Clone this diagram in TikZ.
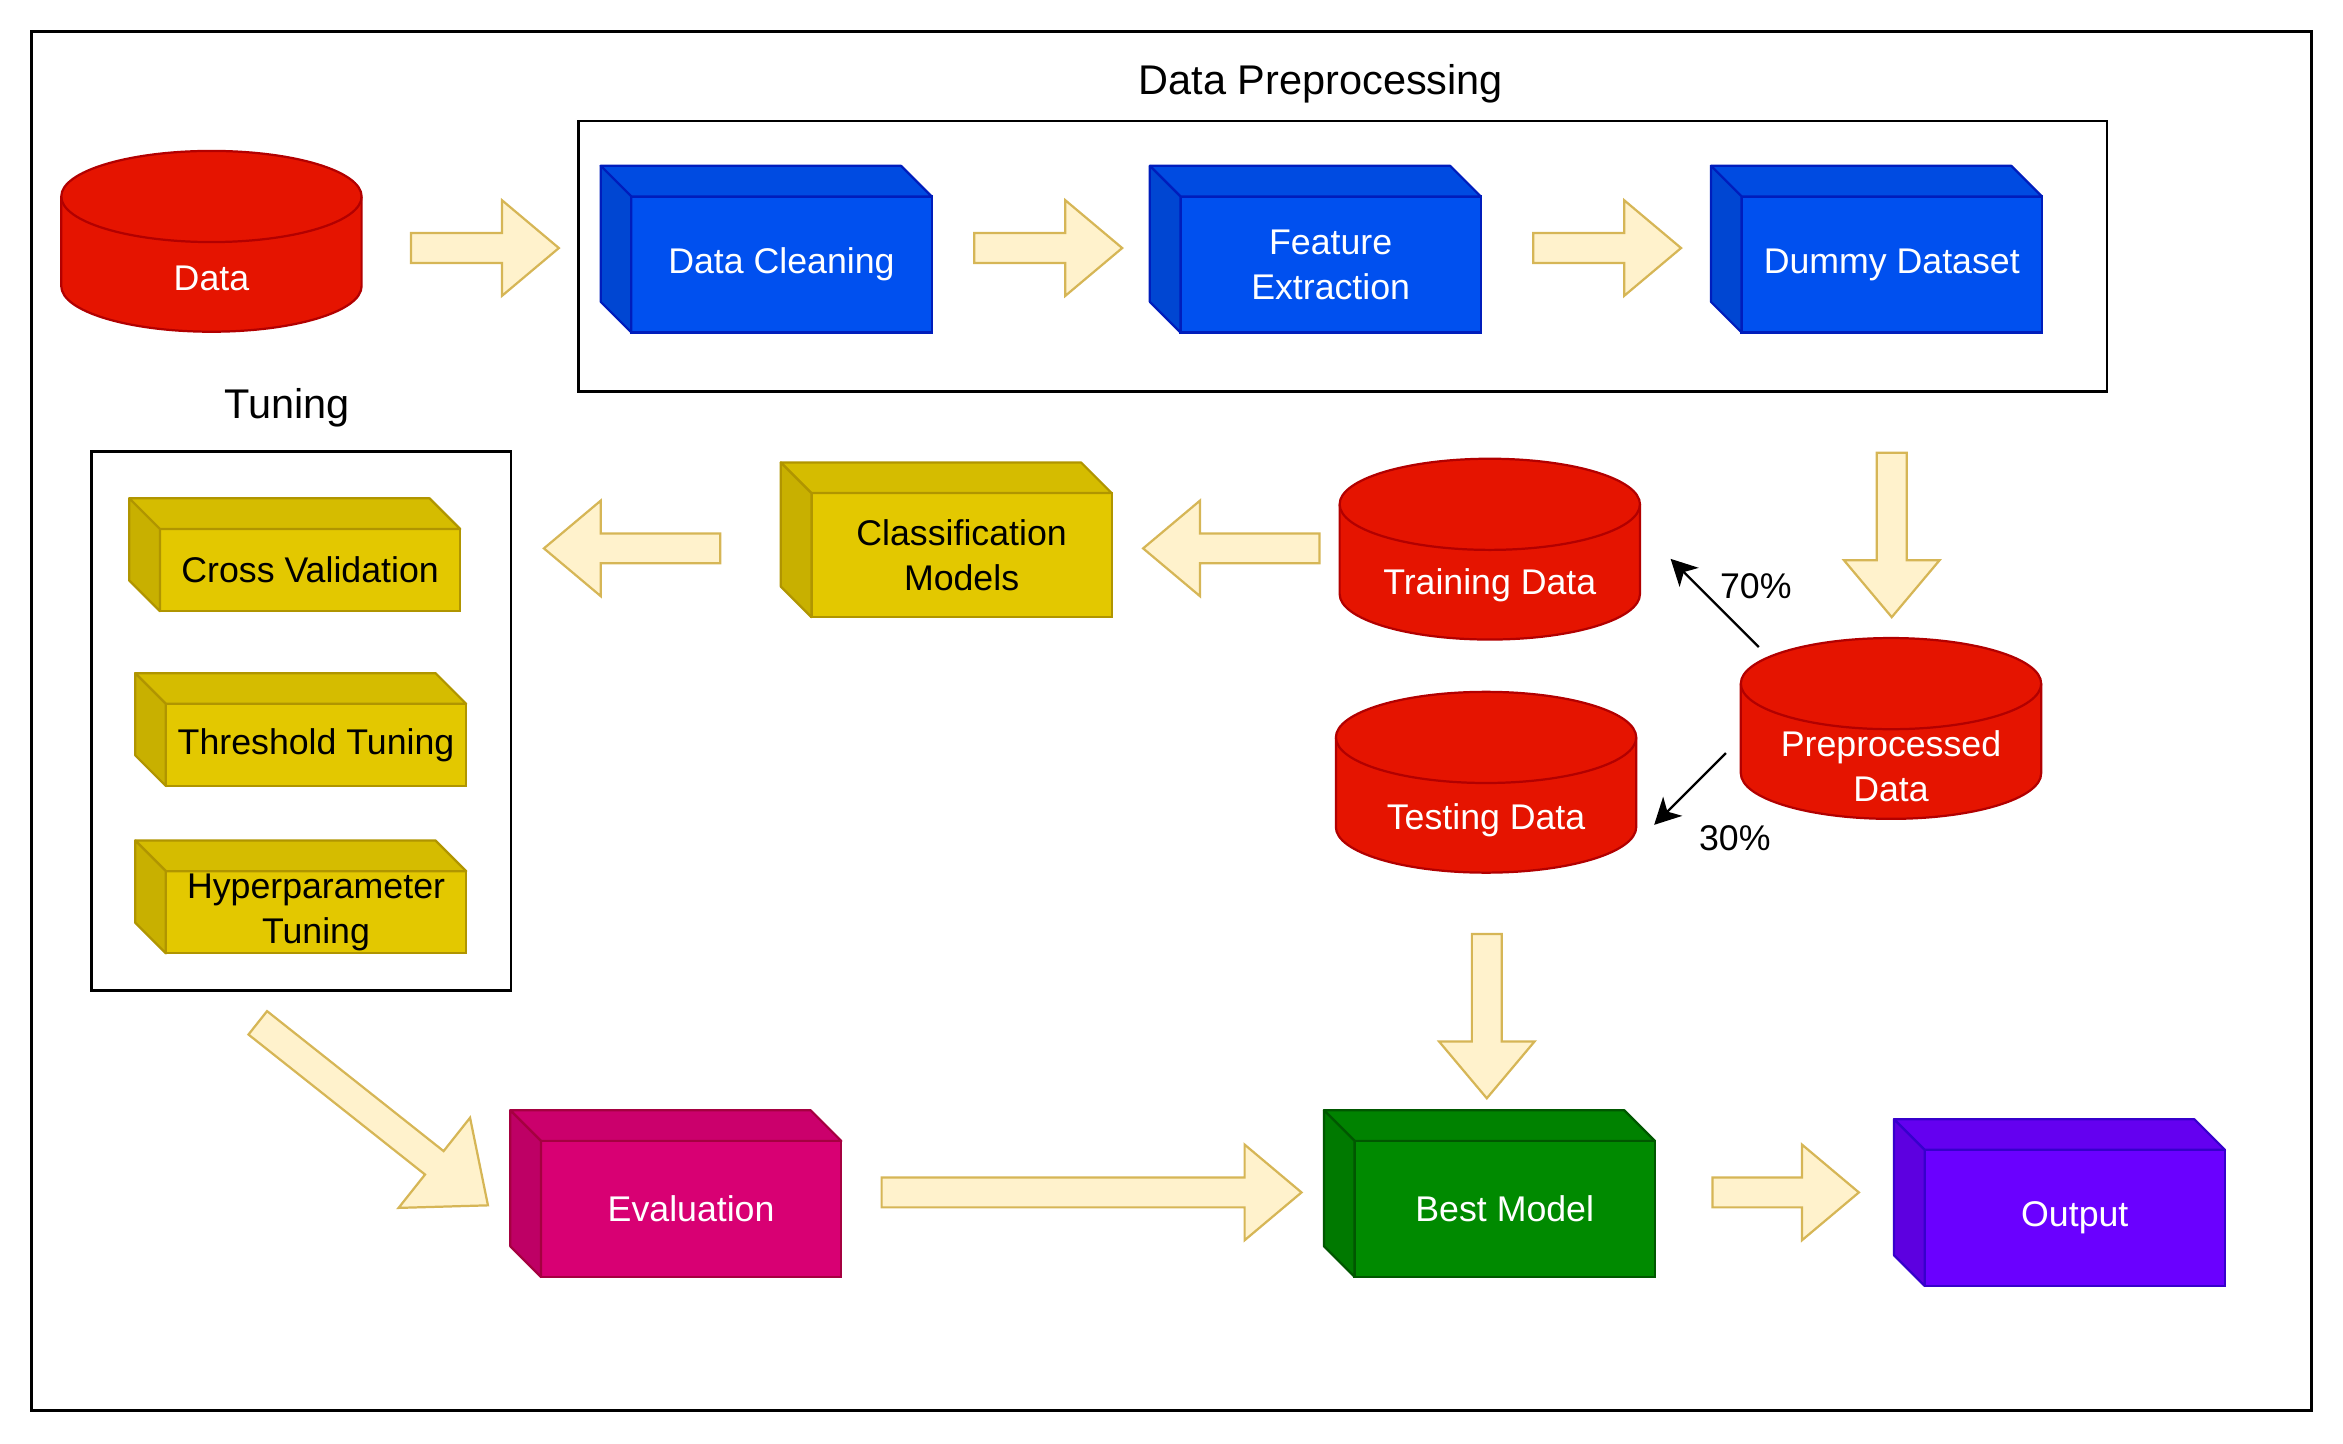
\documentclass[tikz,border=0pt]{standalone}
\usepackage{fontspec}
\setmainfont{Liberation Sans}
\usepackage{tikz}
\usepackage{xcolor}
\usetikzlibrary{arrows.meta, calc}

\definecolor{redfill}{HTML}{E51400}
\definecolor{redline}{HTML}{B20000}
\definecolor{bluefill}{HTML}{0050EF}
\definecolor{blueline}{HTML}{001DBC}
\definecolor{yellowfill}{HTML}{E3C800}
\definecolor{yellowline}{HTML}{B09500}
\definecolor{pinkfill}{HTML}{D80073}
\definecolor{pinkline}{HTML}{A50040}
\definecolor{greenfill}{HTML}{008A00}
\definecolor{greenline}{HTML}{005700}
\definecolor{violetfill}{HTML}{6A00FF}
\definecolor{violetline}{HTML}{3700CC}
\definecolor{flowfill}{HTML}{FFF2CC}
\definecolor{flowline}{HTML}{D6B656}

\newcommand{\lbl}{\fontsize{13.6}{17.1}\selectfont}
\newcommand{\ttl}{\fontsize{15.8}{19}\selectfont}

% cylinder drawn round its centre
\newcommand{\dbshape}[1]{%
  \draw[db] ($(#1)+(-2.01,0.6)$) -- ($(#1)+(-2.01,-0.6)$)
    arc[start angle=180, end angle=360, x radius=2.01, y radius=0.61]
    -- ($(#1)+(2.01,0.6)$)
    arc[start angle=0, end angle=180, x radius=2.01, y radius=0.61] -- cycle;
  \draw[db, fill=none] ($(#1)+(-2.01,0.6)$)
    arc[start angle=180, end angle=360, x radius=2.01, y radius=0.61];}

% top and left faces of a box node
\newcommand{\cubefaces}[2]{%
  \draw[line width=0.85pt, draw=#2line, fill=#2fill!94!black, line join=round]
    (#1.north west) -- ++(-0.41,0.41) -- ($(#1.north east)+(-0.41,0.41)$) -- (#1.north east) -- cycle;
  \draw[line width=0.85pt, draw=#2line, fill=#2fill!88!black, line join=round]
    (#1.north west) -- ++(-0.41,0.41) -- ($(#1.south west)+(-0.41,0.41)$) -- (#1.south west) -- cycle;}

% wide hollow arrow from #2 to #3, #1 = half width of the head
\newcommand{\blockarrow}[3][0.64]{%
  \path let \p1=($(#3)-(#2)$) in \pgfextra{%
    \pgfmathsetmacro\arrang{atan2(\y1,\x1)}%
    \pgfmathsetmacro\arrlen{veclen(\x1,\y1)/28.45274}%
    \xdef\arrang{\arrang}\xdef\arrlen{\arrlen}};
  \draw[flow, shift={(#2)}, rotate=\arrang]
    (0,-0.2) -- ({\arrlen-1.19*#1},-0.2) -- ({\arrlen-1.19*#1},-#1) -- (\arrlen,0)
    -- ({\arrlen-1.19*#1},#1) -- ({\arrlen-1.19*#1},0.2) -- (0,0.2) -- cycle;}

\begin{document}
\begin{tikzpicture}
		% Define styles for boxes, cylinders and arrows
		\tikzstyle{box} = [rectangle, line width=0.85pt, minimum width=4.02cm, minimum height=1.82cm, text=white, align=center, font=\lbl, inner sep=0.5pt, outer sep=0pt]
		\tikzstyle{smallbox} = [box, minimum height=1.1cm, text=black, fill=yellowfill, draw=yellowline]
		\tikzstyle{db} = [draw=redline, fill=redfill, line width=0.85pt]
		\tikzstyle{dbtext} = [text=white, align=center, font=\lbl, inner sep=1pt]
		\tikzstyle{flow} = [draw=flowline, fill=flowfill, line width=0.85pt]
		\tikzstyle{split} = [line width=0.85pt, -{Stealth[length=0.35cm, width=0.36cm, inset=0.1cm]}]
		\tikzstyle{pct} = [font=\lbl, inner sep=1pt]
		
		\useasboundingbox (0,0) rectangle (31.36,-19.314);
		
		% Outer frame and the two groups
		\draw[line width=1.3pt] (0.42,-0.42) rectangle (30.94,-18.88);
		\draw[line width=1.1pt] (7.74,-1.62) rectangle (28.20,-5.24);
		\draw[line width=1.1pt] (1.22,-6.04) rectangle (6.84,-13.26);
		\node[font=\ttl] (pptitle) at (17.68,-1.12) {Data Preprocessing};
		\node[font=\ttl] (tntitle) at (3.84,-5.46) {Tuning};
		
		% Data stores
		\dbshape{2.83,-3.23}
		\dbshape{25.31,-9.75}
		\dbshape{19.94,-7.35}
		\dbshape{19.89,-10.47}
		\node[dbtext] (data) at (2.83,-3.72) {Data};
		\node[dbtext] (prep) at (25.31,-10.26) {Preprocessed\\Data};
		\node[dbtext] (train) at (19.94,-7.84) {Training Data};
		\node[dbtext] (test) at (19.89,-10.98) {Testing Data};
		
		% Processing steps
		\node[box, fill=bluefill, draw=blueline] (clean) at (10.46,-3.54) {Data Cleaning};
		\node[box, fill=bluefill, draw=blueline] (feat) at (17.81,-3.54) {Feature\\Extraction};
		\node[box, fill=bluefill, draw=blueline] (dummy) at (25.32,-3.54) {Dummy Dataset};
		\node[smallbox, minimum height=1.66cm] (clf) at (12.87,-7.43) {Classification\\Models};
		\node[smallbox] (cv) at (4.15,-7.63) {Cross Validation};
		\node[smallbox] (thr) at (4.23,-9.97) {Threshold Tuning};
		\node[smallbox] (hyp) at (4.23,-12.21) {Hyperparameter\\Tuning};
		\node[box, fill=pinkfill, draw=pinkline] (eval) at (9.25,-16.18) {Evaluation};
		\node[box, fill=greenfill, draw=greenline] (best) at (20.14,-16.18) {Best Model};
		\node[box, fill=violetfill, draw=violetline] (out) at (27.77,-16.30) {Output};
		\foreach \n/\c in {clean/blue, feat/blue, dummy/blue, clf/yellow, cv/yellow, thr/yellow, hyp/yellow, eval/pink, best/green, out/violet}
			\cubefaces{\n}{\c};
		
		% Ends of the flow arrows
		\coordinate (f1s) at (5.50,-3.32);   \coordinate (f1e) at (7.48,-3.32);
		\coordinate (f2s) at (13.04,-3.32);  \coordinate (f2e) at (15.02,-3.32);
		\coordinate (f3s) at (20.52,-3.32);  \coordinate (f3e) at (22.50,-3.32);
		\coordinate (f4s) at (25.32,-6.06);  \coordinate (f4e) at (25.32,-8.26);
		\coordinate (f5s) at (17.66,-7.34);  \coordinate (f5e) at (15.30,-7.34);
		\coordinate (f6s) at (9.64,-7.34);   \coordinate (f6e) at (7.28,-7.34);
		\coordinate (f7s) at (3.45,-13.69);  \coordinate (f7e) at (6.54,-16.14);
		\coordinate (f8s) at (11.80,-15.96); \coordinate (f8e) at (17.42,-15.96);
		\coordinate (f9s) at (19.90,-12.50); \coordinate (f9e) at (19.90,-14.70);
		\coordinate (f10s) at (22.92,-15.96); \coordinate (f10e) at (24.88,-15.96);
		\foreach \s/\e in {f1s/f1e, f2s/f2e, f3s/f3e, f4s/f4e, f5s/f5e, f6s/f6e, f8s/f8e, f9s/f9e, f10s/f10e}
			\blockarrow{\s}{\e};
		\blockarrow[0.77]{f7s}{f7e};
		
		% Train / test split
		\coordinate (p70) at (23.54,-8.66);  \coordinate (t70) at (22.36,-7.48);
		\coordinate (p30) at (23.10,-10.08); \coordinate (t30) at (22.14,-11.04);
		\draw[split] (p70) -- (t70);
		\draw[split] (p30) -- (t30);
		\node[pct] (l70) at (23.50,-7.84) {70\%};
		\node[pct] (l30) at (23.22,-11.22) {30\%};
	
	\end{tikzpicture}
\end{document}
